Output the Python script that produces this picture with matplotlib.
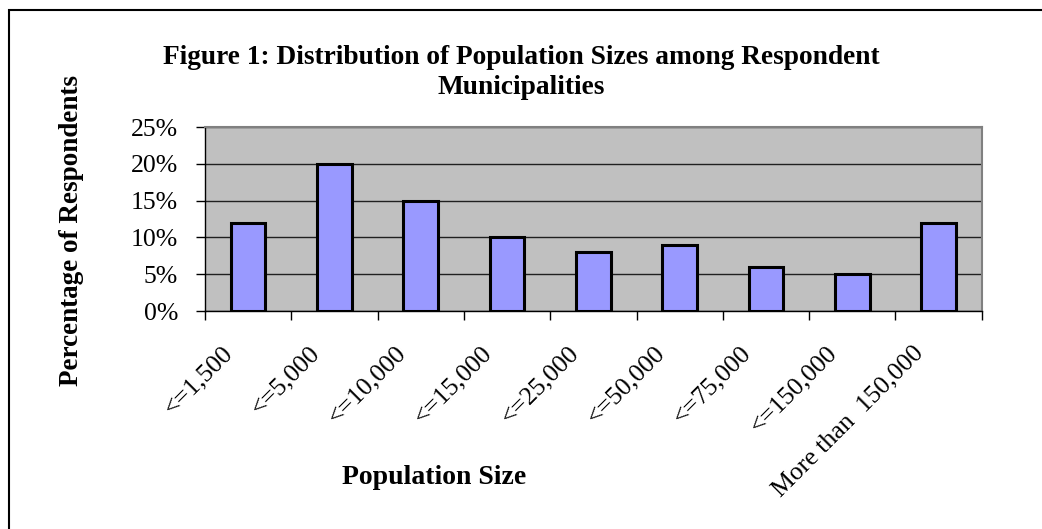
import matplotlib.pyplot as plt
import matplotlib.transforms as mtransforms
import numpy as np
from matplotlib.patches import Rectangle

categories = ['<=1,500', '<=5,000', '<=10,000', '<=15,000', '<=25,000',
              '<=50,000', '<=75,000', '<=150,000', 'More than  150,000']
percent = [12, 20, 15, 10, 8, 9, 6, 5, 12]
yticks = [0, 5, 10, 15, 20, 25]
ytick_labels = ['0%', '5%', '10%', '15%', '20%', '25%']

plt.rcParams['font.family'] = ['Liberation Serif', 'DejaVu Serif']

fig = plt.figure(figsize=(10.42, 5.29), dpi=100)
ax = fig.add_axes([205/1042, 1-311/529, (981.7-205)/1042, (311-127)/529])

x = np.arange(len(categories))
ax.set_facecolor('#C0C0C0')
ax.bar(x, percent, width=0.4, color='#9999FF', edgecolor='black', linewidth=2.2, zorder=3)

ax.set_xlim(-0.5, len(categories)-0.5)
ax.set_ylim(0, 25)
ax.set_yticks(yticks)
ax.set_yticklabels(ytick_labels, fontsize=18.5)
ax.yaxis.grid(True, color='#202020', linewidth=1)
ax.set_axisbelow(True)

# category boundaries carry the tick marks, labels sit at centres
ax.set_xticks(np.arange(len(categories)+1)-0.5, minor=True)
ax.set_xticks(x)
ax.set_xticklabels(categories, rotation=45, ha='right', va='top', rotation_mode='anchor', fontsize=18.5)
ax.tick_params(axis='x', which='major', length=0, pad=22)
ax.tick_params(axis='x', which='minor', length=6.5, direction='out', width=1)
ax.tick_params(axis='y', length=6.5, direction='out', width=1, pad=13)

shift = mtransforms.ScaledTranslation(-26/100, 0, fig.dpi_scale_trans)
for lab in ax.get_xticklabels():
    lab.set_transform(lab.get_transform() + shift)

for s in ['top', 'right']:
    ax.spines[s].set_color('#808080')
    ax.spines[s].set_linewidth(1.5)
for s in ['left', 'bottom']:
    ax.spines[s].set_color('black')
    ax.spines[s].set_linewidth(1)

fig.text(0.5, 1-57/529, 'Figure 1: Distribution of Population Sizes among Respondent',
         ha='center', va='center', fontsize=19.7, fontweight='bold')
fig.text(0.5, 1-87/529, 'Municipalities', ha='center', va='center', fontsize=19.7, fontweight='bold')
fig.text(72/1042, 1-231/529, 'Percentage of Respondents', rotation=90,
         ha='center', va='center', fontsize=19.5, fontweight='bold')
fig.text(434/1042, 1-478/529, 'Population Size', ha='center', va='center',
         fontsize=20, fontweight='bold')

fig.patches.append(Rectangle((9/1042, -0.1), 1.2, 1-10/529+0.1, transform=fig.transFigure,
                             fill=False, edgecolor='black', linewidth=1.5))

fig.savefig('out.png', dpi=100)
